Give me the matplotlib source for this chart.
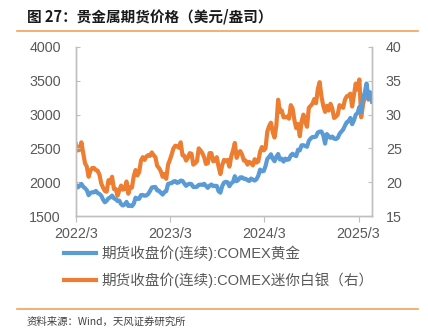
import matplotlib
matplotlib.use("Agg")
import matplotlib.pyplot as plt
import matplotlib.lines as mlines
import pandas as pd

# weekly closes (Fridays, 2022-03-25 .. 2025-05-16)
gold = [
    # 2022
    1958,
    1923, 1945, 1975, 1934, 1911,
    1882, 1808, 1842, 1851,
    1850, 1871, 1840, 1826,
    1801, 1742, 1703, 1727, 1762,
    1775, 1802, 1762, 1749,
    1722, 1728, 1675, 1655, 1672,
    1709, 1648, 1656, 1645,
    1681, 1771, 1754, 1754,
    1810, 1810, 1800, 1804, 1826,
    # 2023
    1869, 1921, 1928, 1929,
    1877, 1874, 1842, 1817,
    1856, 1867, 1973, 1983, 1986,
    2011, 2016, 1990, 1999,
    2024, 2019, 1981, 1946,
    1969, 1977, 1970, 1929, 1929,
    1932, 1960, 1964, 1960,
    1976, 1946, 1916, 1947,
    1966, 1942, 1946, 1945, 1866,
    1845, 1941, 1994, 2006,
    1999, 1940, 1984, 2003,
    2089, 2014, 2035, 2071, 2072,
    # 2024
    2050, 2051, 2029, 2018,
    2054, 2038, 2024, 2045,
    2095, 2186, 2161, 2165, 2238,
    2345, 2374, 2413, 2347,
    2310, 2375, 2417, 2335, 2348,
    2305, 2349, 2331, 2339,
    2397, 2421, 2399, 2386,
    2480, 2471, 2546, 2547, 2536,
    2524, 2611, 2647, 2668,
    2667, 2676, 2736, 2748,
    2749, 2694, 2571, 2712, 2681,
    2656, 2675, 2645, 2638,
    # 2025
    2654, 2715, 2748, 2778, 2835,
    2887, 2900, 2950, 2858,
    2915, 3001, 3021, 3114,
    3035, 3244, 3328, 3460,
    3240, 3330, 3190,
]

silver = [
    # 2022
    25.6,
    24.7, 24.8, 25.9, 24.3, 22.8,
    22.3, 20.8, 21.7, 22.1,
    22.1, 21.8, 21.7, 21.1,
    19.8, 19.2, 18.7, 18.6, 20.3,
    19.9, 20.8, 19.0, 19.0,
    18.0, 18.8, 19.5, 18.9, 19.0,
    20.1, 18.3, 19.3, 19.2,
    20.9, 21.8, 21.0, 21.5,
    23.2, 23.7, 23.3, 23.8, 24.0,
    # 2023
    23.9, 24.4, 24.0, 23.7,
    22.4, 22.1, 21.6, 20.8,
    21.2, 20.5, 22.6, 23.3, 24.1,
    25.0, 25.4, 25.3, 25.1,
    25.9, 24.0, 23.9, 23.2,
    23.6, 24.3, 24.2, 22.6, 22.8,
    23.1, 25.0, 24.7, 24.3,
    23.7, 22.7, 22.8, 24.3,
    24.3, 23.1, 23.2, 23.7, 22.3,
    21.2, 22.5, 23.3, 23.1,
    23.3, 22.3, 23.8, 24.7,
    25.8, 23.6, 24.3, 24.6, 24.1,
    # 2024
    23.2, 23.2, 22.6, 23.0,
    22.8, 22.5, 23.4, 22.9,
    23.1, 24.5, 25.2, 24.7, 25.0,
    27.5, 28.3, 28.8, 27.4,
    26.6, 28.4, 32.2, 30.4, 30.6,
    29.6, 29.6, 29.7, 29.4,
    31.4, 30.9, 29.2, 28.0,
    28.6, 26.8, 29.0, 30.0, 28.9,
    28.2, 31.0, 31.3, 31.6,
    32.3, 31.7, 33.8, 34.8,
    32.7, 31.3, 30.4, 31.3, 30.6,
    31.6, 30.9, 29.5, 29.7,
    # 2025
    30.0, 31.4, 31.2, 31.0, 32.2,
    32.7, 32.8, 33.1, 31.2,
    32.9, 34.6, 33.7, 35.2,
    29.6, 31.4, 32.7, 33.5,
    32.2, 32.7, 32.4,
]

dates = pd.date_range("2022-03-25", "2025-05-16", freq="W-FRI")
tick_dates = pd.to_datetime(["2022-03-25", "2023-03-25", "2024-03-25", "2025-03-25"])
tick_labels = ["2022/3", "2023/3", "2024/3", "2025/3"]

gold_name = "期货收盘价(连续):COMEX黄金"
silver_name = "期货收盘价(连续):COMEX迷你白银（右）"

blue = "#5B9BD5"
orange = "#ED7D31"
grey = "#595959"
axis_grey = "#BFBFBF"
fonts = ["Liberation Sans", "Noto Sans CJK SC"]

plt.rcParams["font.family"] = fonts

fig = plt.figure(figsize=(4.28, 3.33), dpi=100)
ax = fig.add_axes([76 / 428, 1 - 216 / 333, (372 - 76) / 428, (216 - 47) / 333])
ax2 = ax.twinx()

ax.plot(dates, gold, color=blue, lw=3.0, solid_joinstyle="round")
ax2.plot(dates, silver, color=orange, lw=3.0, solid_joinstyle="round")
ax.set_zorder(ax2.get_zorder() + 1)
ax.patch.set_visible(False)

ax.set_xlim(dates[0], dates[-1])
ax.set_ylim(1500, 4000)
ax.set_yticks(range(1500, 4001, 500))
ax2.set_ylim(15, 40)
ax2.set_yticks(range(15, 41, 5))
ax.set_xticks(tick_dates)
ax.set_xticklabels(tick_labels)

for a in (ax, ax2):
    a.spines["top"].set_visible(False)
    for s in ("left", "right", "bottom"):
        a.spines[s].set_color(axis_grey)
        a.spines[s].set_linewidth(1)
ax.tick_params(axis="y", direction="in", length=3, color=axis_grey, pad=11,
               labelsize=10.3, labelcolor=grey)
ax2.tick_params(axis="y", direction="in", length=3, color=axis_grey, pad=10,
                labelsize=10.3, labelcolor=grey)
ax.tick_params(axis="x", direction="out", length=4, color=axis_grey, pad=4,
               labelsize=10.3, labelcolor=grey)

handles = [mlines.Line2D([], [], color=blue, lw=3),
           mlines.Line2D([], [], color=orange, lw=3)]
leg = fig.legend(handles, [gold_name, silver_name], loc="upper left",
                 bbox_to_anchor=(58 / 428, 1 - 240 / 333), frameon=False,
                 fontsize=10.5, handlelength=2.2, handletextpad=0.35,
                 labelspacing=0.75, borderaxespad=0)
for t in leg.get_texts():
    t.set_color(grey)

fig.text(27 / 428, 1 - 17 / 333, "图 27：贵金属期货价格（美元/盎司）", fontsize=10.5,
         fontweight="bold", color="#1A1A1A", va="center", ha="left",
         family=["Noto Sans CJK SC", "DejaVu Sans"])
fig.add_artist(mlines.Line2D([17 / 428, 418 / 428], [1 - 31 / 333, 1 - 31 / 333],
                             color="#F4A15D", lw=1.2))
fig.add_artist(mlines.Line2D([17 / 428, 418 / 428], [1 - 309 / 333, 1 - 309 / 333],
                             color="#F4A15D", lw=1.2))
fig.text(27 / 428, 1 - 322 / 333, "资料来源：Wind，天风证券研究所", fontsize=7.5,
         color="#404040", va="center", ha="left",
         family=["Noto Sans CJK SC", "DejaVu Sans"])

fig.savefig("out.png", dpi=100)
